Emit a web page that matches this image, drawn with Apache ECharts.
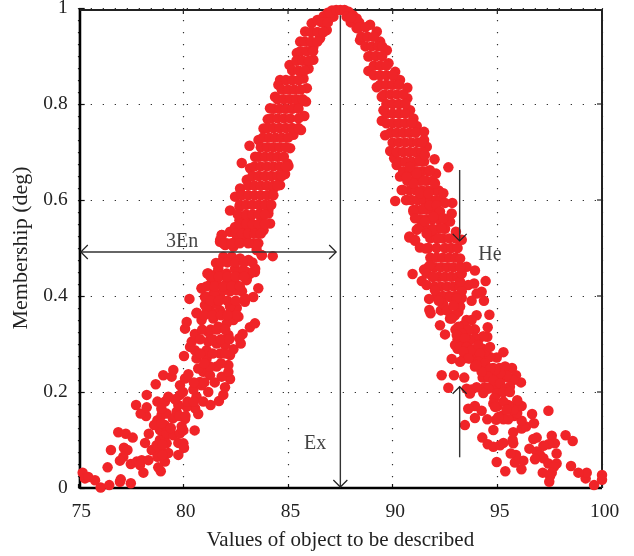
<!DOCTYPE html>
<html><head><meta charset="utf-8">
<style>html,body{margin:0;padding:0;background:#fff}#c{width:634px;height:556px}</style>
<script src="https://cdn.jsdelivr.net/npm/echarts@6/dist/echarts.min.js"></script>
</head><body><div id="c"></div>
<script>
const xTicks=[75,80,85,90,95,100];
const yTicks=[0,0.2,0.4,0.6,0.8,1];
const xTitle='Values of object to be described';
const yTitle='Membership (deg)';
const leftTail=[[75.19,.032],[75.3,.02],[75.46,.023],[75.78,.016],[76.05,.001],[76.46,.006],[77.01,.018],[76.97,.013],[77.49,.01],[76.38,.043],[76.54,.079],[76.89,.116],[77.25,.113],[77.58,.105],[77.16,.084],[77.33,.079],[77.13,.065],[76.97,.057],[77.49,.05],[77.77,.055],[78.01,.058],[78.33,.058],[78.09,.032],[77.93,.048],[78.17,.094],[78.35,.113],[78.49,.079],[78.88,.082],[79.28,.073],[78.76,.065],[79.12,.055],[78.8,.043],[78.92,.035],[79,.069],[78.88,.1],[79.2,.093],[78.72,.089],[79.76,.094],[80,.093],[80.03,.084],[79.76,.069],[79.12,.107],[78.88,.121],[79.2,.114],[79.52,.11],[79.84,.114],[80,.12],[80.54,.12],[78.76,.141],[78.6,.131],[79.12,.131],[79.92,.128],[80.08,.144],[78.96,.152],[79.2,.155],[79.68,.159],[79.5,.145],[80.71,.154],[80.56,.166],[80.16,.169],[79.76,.173],[78.22,.15],[77.96,.155],[78.25,.168],[77.74,.173],[78.76,.18],[79.12,.18],[78.25,.194],[79.28,.19],[79.84,.194],[80.63,.19],[80.95,.18],[81.3,.173],[81.7,.181],[81.91,.194],[81.99,.21],[81.19,.2],[80.87,.214],[80.48,.205],[80.79,.221],[79.84,.214],[78.68,.216],[80.08,.228],[80.24,.237],[79.04,.235],[79.44,.232],[79.52,.246],[79.98,.2],[79.6,.185],[78.95,.165],[79.4,.125],[78.95,.135],[79.0,.09]];
const leftCore=[[80.95,.242],[81.27,.235],[82.23,.227],[81.83,.232],[82.15,.242],[81.59,.253],[81.27,.253],[82.15,.256],[80.71,.249],[81.11,.27],[80.63,.27],[81.75,.28],[82.23,.277],[80.03,.275],[80.55,.287],[81.11,.287],[82.39,.289],[81.99,.298],[80.32,.294],[80.4,.305],[81.19,.305],[81.59,.301],[82.74,.301],[82.67,.312],[82.83,.321],[83.18,.335],[83.42,.343],[80.55,.321],[81.19,.325],[82.15,.319],[81.67,.336],[80.08,.332],[80.16,.346],[80.87,.35],[81.43,.353],[82.07,.343],[82.39,.35],[82.63,.357],[80.63,.364],[81.27,.371],[81.75,.37],[82.23,.365],[81.03,.381],[82.55,.375],[82.94,.388],[83.34,.398],[81.03,.398],[80.29,.394],[81.43,.405],[81.75,.4],[82.23,.41],[80.87,.416],[81.27,.423],[81.59,.426],[82.07,.426],[82.55,.423],[82.8,.41],[83.02,.433],[83.58,.416],[81.19,.447],[81.59,.447],[82.07,.447],[82.55,.447],[83.02,.45],[83.42,.45],[81.56,.469],[81.91,.482],[82.31,.482],[82.71,.478],[83.11,.475],[83.43,.457],[83.19,.447],[83.03,.437],[81.15,.447],[81.67,.457],[81.43,.437],[81.99,.444],[82.47,.457],[82.87,.454],[82.23,.43],[80.88,.416],[81.12,.398],[81.51,.405],[81.91,.412],[82.55,.412],[82.95,.395],[80.64,.365],[81.12,.374],[81.59,.384],[82.23,.378],[82.55,.36],[83.74,.485],[84.27,.483],[83.5,.496],[83.58,.51],[83.35,.51],[82.95,.517],[82.55,.517],[82.07,.51],[81.75,.513],[81.83,.527],[82.23,.534],[82.47,.544],[82.87,.544],[83.35,.544],[83.74,.558],[84.14,.551],[84.06,.572],[82.71,.562],[83.19,.565],[83.66,.572],[82.23,.578],[82.68,.586],[82.47,.607],[82.71,.624],[83.03,.642],[83.19,.666],[82.79,.677],[83.16,.713],[83.43,.69],[83.59,.725],[83.83,.749],[84.03,.768],[84.14,.791],[84.38,.815],[84.54,.84],[84.62,.85],[85.07,.881],[85.42,.906],[85.58,.93],[85.82,.951],[86.13,.968],[87.17,.982],[86.85,.954],[86.53,.937],[86.21,.919],[86.21,.892],[85.98,.874],[85.74,.853],[85.9,.833],[85.86,.805],[85.5,.801],[85.78,.775],[85.62,.746],[85.26,.736],[85.1,.708],[84.97,.676],[85.02,.671],[84.86,.654],[84.62,.631],[84.3,.624],[84.14,.59],[84.06,.579],[83.83,.537],[83.51,.506],[83.75,.485],[82.68,.558],[82.68,.538],[81.84,.527],[81.76,.517],[82,.506],[82.39,.503],[83.0,.52],[83.3,.535],[83.6,.53],[86.4,.975],[86.7,.983],[86.9,.99],[87.1,.995]];
const peak=[[87.3,.996],[87.5,.996],[87.7,.996],[87.9,.992],[88.1,.985],[87.8,.982],[88.0,.97],[88.4,.97]];
const rightCore=[[88.28,.978],[88.92,.965],[89.24,.951],[89.4,.93],[89.72,.912],[89.8,.885],[90.12,.867],[90.35,.85],[90.7,.834],[90.7,.812],[90.83,.787],[90.99,.77],[91.15,.754],[91.5,.742],[91.5,.725],[91.63,.711],[88.28,.958],[88.44,.933],[88.84,.899],[88.84,.869],[89.24,.835],[89.48,.815],[89.56,.787],[89.48,.765],[89.64,.735],[89.88,.702],[90.07,.687],[90.19,.673],[90.35,.649],[90.43,.621],[90.12,.598],[90.67,.6],[90.99,.579],[91.15,.538],[90.8,.524],[91.07,.517]];
const rightUpper=[[92.66,.668],[92,.685],[92.07,.655],[92.42,.614],[92.85,.594],[92.5,.594],[92.82,.572],[92.74,.555],[90.64,.6],[90.48,.621],[90.99,.576],[91.07,.562],[91.23,.541],[91.46,.582],[91.78,.589],[92.1,.589],[92.26,.576],[92.42,.562],[91.94,.565],[91.54,.555],[91.94,.537],[91.62,.53],[91.3,.614],[90.99,.635],[90.67,.648],[90.83,.669],[91.3,.683],[91.54,.694],[91.78,.662],[92.02,.635],[91.7,.614],[91.46,.641],[91.15,.655],[93.93,.453],[94.44,.431],[94.25,.409],[94.01,.405],[94.36,.39],[93.77,.39],[93.89,.426],[93.61,.423],[93.53,.461],[90.95,.446],[91.39,.431],[91.62,.423],[91.74,.394],[91.75,.371],[91.81,.364],[92.42,.383],[92.74,.353],[92.98,.36],[93.14,.367],[93.22,.378],[93.3,.396],[93.3,.41],[93.22,.43],[93.3,.447],[93.22,.46],[93.22,.478],[90.8,.522],[91.07,.515],[91.3,.501],[91.59,.499],[91.5,.455],[91.78,.464],[91.62,.447],[91.94,.44],[92.02,.412],[92.34,.398],[92.74,.398],[93.06,.395],[93.02,.534],[93.3,.517],[92.18,.52],[92.34,.541],[92.2,.39],[92.6,.37],[92.9,.38]];
const rightMid=[[95.29,.283],[94.97,.272],[94.65,.273],[94.41,.284],[94.65,.294],[94.52,.315],[94.33,.316],[94.54,.335],[94.62,.361],[94.01,.36],[93.77,.35],[93.53,.35],[93.38,.339],[93.14,.336],[93.93,.33],[93.61,.329],[93.3,.322],[93.06,.319],[92.5,.32],[92.26,.339],[92.82,.353],[93.93,.312],[93.69,.308],[93.45,.312],[92.98,.298],[93.22,.294],[93.53,.294],[93.77,.287],[94.09,.298],[94.17,.28],[93.38,.284],[93.61,.27],[93.22,.263],[92.82,.269],[93.93,.253],[94.09,.263],[94.41,.26],[96.13,.22],[95.89,.235],[95.76,.225],[95.6,.211],[95.37,.253],[95.45,.235],[95.13,.239],[94.89,.246],[94.65,.249],[94.57,.232],[94.81,.225],[95.13,.218],[95.37,.207],[94.57,.207],[94.33,.198],[94.97,.197],[95.29,.2],[95.6,.2],[94.25,.242],[94.01,.256],[92.34,.235],[92.93,.235],[93.42,.23],[92.66,.209],[93.53,.207],[93.77,.205],[94.01,.21],[93.69,.197]];
const rightTail=[[100,.027],[100,.017],[99.62,.006],[99.22,.02],[99.27,.032],[98.87,.032],[98.52,.046],[98.6,.098],[98.26,.11],[97.6,.109],[97.75,.093],[97.44,.091],[97.2,.088],[96.88,.105],[96.72,.102],[96.53,.082],[97.83,.072],[96.88,.076],[97.04,.069],[97.2,.062],[96.8,.06],[97.44,.051],[97.83,.051],[97.7,.044],[97.6,.032],[97.17,.032],[97.52,.025],[97.48,.013],[96.15,.039],[96.24,.057],[95.84,.053],[95.89,.069],[95.64,.072],[95.38,.035],[94.97,.054],[95.76,.093],[95.73,.1],[95.76,.116],[96.16,.124],[96.37,.128],[96.75,.135],[96.66,.154],[97.44,.161],[96.16,.14],[95.95,.156],[96.16,.171],[95.95,.183],[95.76,.163],[95.52,.143],[95.29,.143],[94.94,.142],[95.05,.148],[94.52,.143],[93.93,.146],[94.25,.161],[93.93,.171],[93.61,.165],[93.45,.131],[94.28,.105],[94.54,.091],[94.81,.086],[95.13,.089],[95.29,.094],[94.81,.121],[95.52,.173],[95.29,.18],[95.44,.163],[94.86,.187],[94.81,.176],[94.89,.169]];
const leftDenseRows=[[.99,[87.0]],[.97,[86.6,86.9]],[.95,[86.1,86.4,86.7]],[.93,[85.8,86.1,86.4]],[.91,[85.6,85.9,86.2]],[.89,[85.4,85.7,86.0]],[.87,[85.2,85.5,85.8]],[.85,[84.9,85.2,85.5]],[.83,[84.7,85.0,85.3,85.6]],[.81,[84.5,84.8,85.1,85.4,85.7]],[.79,[84.3,84.6,84.9,85.2,85.5]],[.77,[84.2,84.5,84.8,85.1,85.5]],[.75,[84.0,84.3,84.6,84.9,85.2,85.5]],[.73,[83.8,84.1,84.4,84.7,85.0]],[.71,[83.7,84.0,84.3,84.6,84.9]],[.69,[83.6,83.9,84.2,84.5,84.8]],[.67,[83.4,83.7,84.0,84.3,84.6,84.9]],[.65,[83.3,83.6,83.9,84.2,84.5,84.7]],[.63,[83.1,83.4,83.7,84.0,84.3,84.5]],[.61,[82.8,83.1,83.4,83.7,84.0,84.3]],[.59,[82.7,83.0,83.3,83.6,83.9,84.2]],[.57,[82.6,83.0,83.3,83.6,83.9]],[.55,[82.7,83.0,83.3,83.6,83.9]],[.53,[82.5,82.8,83.1,83.4,83.7]],[.51,[81.9,82.3,82.7,83.1]],[.47,[81.8,82.1,82.5,82.9,83.3]],[.44,[81.3,81.7,82.1,82.5,82.9]],[.42,[81.1,81.5,81.9,82.3,82.7]],[.39,[81.3,81.7,82.1,82.5]],[.36,[81.0,81.4,81.8,82.1]],[.33,[80.9,81.3,81.6,82.0]],[.31,[80.8,81.4,81.8,82.2]],[.28,[80.8,81.4,82.0]],[.26,[81.0,81.8]],[.22,[80.5,81.0,81.5]],[.18,[80.2,80.5]],[.15,[79.8,80.1]]];
const rightDenseRows=[[.98,[88.0]],[.96,[88.4,88.7]],[.94,[88.5,88.8,89.1]],[.92,[88.7,89.0,89.3,89.5]],[.90,[88.9,89.2,89.5]],[.88,[89.1,89.4,89.7]],[.86,[89.1,89.4,89.7,90.0]],[.84,[89.4,89.7,90.0,90.3]],[.82,[89.6,89.9,90.2,90.5]],[.80,[89.7,90.0,90.3,90.6]],[.78,[89.7,90.0,90.3,90.6]],[.76,[89.7,90.0,90.3,90.6,90.9]],[.74,[89.9,90.2,90.5,90.8,91.1]],[.72,[90.0,90.3,90.6,90.9,91.2,91.4]],[.70,[90.2,90.5,90.8,91.1,91.4]],[.68,[90.3,90.6,90.9,91.2,91.5]],[.66,[90.5,90.8,91.1,91.4,91.7]],[.64,[90.7,91.0,91.3,91.6,91.9]],[.62,[90.8,91.1,91.4,91.7,92.0,92.2]],[.60,[90.9,91.2,91.5,91.8,92.1,92.3]],[.58,[91.1,91.4,91.7,92.0]],[.56,[91.3,91.6,91.9,92.2,92.5]],[.54,[91.6,91.9,92.2,92.5]],[.52,[91.8,92.1,92.4,92.7,93.0]],[.50,[91.7,92.1,92.5,92.8,93.1]],[.48,[91.8,92.1,92.4,92.7,93.0]],[.46,[91.7,92.0,92.3,92.6,92.9]],[.44,[91.9,92.2,92.5,92.8,93.1]],[.42,[92.0,92.3,92.6,92.9,93.2]],[.40,[92.1,92.4,92.7,93.0]],[.37,[92.3,92.6]],[.33,[93.0,93.3,93.6,93.9]],[.31,[93.1,93.4,93.7,94.1]],[.29,[93.1,93.4,93.7,94.0,94.3]],[.27,[93.4,93.7,94.0,94.3]],[.25,[94.2,94.5,94.8,95.1,95.4,95.7]],[.23,[94.3,94.6,94.9,95.2,95.5]],[.21,[94.4,94.7,95.0]],[.17,[95.0,95.7]],[.15,[95.2,95.8]]];
const arrows=[[75.1,.4917,87.3,.4917,1],[87.5,.985,87.5,.002,0],[93.2,.6625,93.2,.515,0],[93.2,.064,93.2,.211,0]];
const annotations=[[79.94,.5125,'3En'],[94.65,.485,'He'],[86.3,.092,'Ex']];
const serif='"Liberation Serif"';
const rowsToPoints=rows=>rows.flatMap(r=>r[1].map(x=>[x,r[0]]));
const points=[].concat(leftTail,leftCore,rowsToPoints(leftDenseRows),peak,rightCore,rowsToPoints(rightDenseRows),rightUpper,rightMid,rightTail);
const frameTop=.996, frameLeft=75.06;
const chart=echarts.init(document.getElementById('c'));
chart.setOption({
 animation:false,backgroundColor:'#fff',
 grid:{left:78.7,top:8,width:523.3,height:480,outerBoundsMode:'none'},
 xAxis:{type:'value',min:75,max:100,interval:5,
  name:xTitle,nameLocation:'middle',nameGap:42,nameTextStyle:{fontFamily:serif,fontSize:21,color:'#222'},
  axisLine:{show:false},axisTick:{inside:true,length:4,lineStyle:{color:'#111',width:1.2}},
  axisLabel:{fontFamily:serif,fontSize:19.5,color:'#222',margin:14,padding:[0,0,0,5]},
  splitLine:{show:true,lineStyle:{color:'#333',width:1.2,type:[1.3,10.7]}}},
 yAxis:{type:'value',min:0,max:1,interval:.2,
  name:yTitle,nameLocation:'middle',nameRotate:90,nameGap:43,nameTextStyle:{fontFamily:serif,fontSize:22,color:'#222'},
  axisLine:{show:false},axisTick:{inside:true,length:6,lineStyle:{color:'#111',width:1.2}},
  axisLabel:{fontFamily:serif,fontSize:19.5,color:'#222',margin:11,padding:[2,0,0,0]},
  splitLine:{show:true,lineStyle:{color:'#333',width:1.2,type:[1.3,10.7]}}},
 series:[
  {type:'custom',coordinateSystem:'cartesian2d',clip:false,silent:true,z:1,data:[[0,0]],
   renderItem:(p,api)=>{
    const c=(x,y)=>api.coord([x,y]);
    const a=c(frameLeft,0),b=c(frameLeft,frameTop),d=c(100,frameTop),e=c(100,0);
    const seg=(p1,p2,w,col)=>({type:'line',shape:{x1:p1[0],y1:p1[1],x2:p2[0],y2:p2[1]},style:{stroke:col,lineWidth:w}});
    const kids=[seg(a,e,2.6,'#000'),seg(a,[b[0],b[1]-1],2.6,'#000'),seg(b,d,2,'#222'),seg(e,[d[0],d[1]-1],2,'#222')];
    xTicks.slice(1,-1).forEach(t=>{const q=c(t,frameTop);kids.push(seg(q,[q[0],q[1]+4],1.2,'#222'));});
    yTicks.slice(1,-1).forEach(t=>{const q=c(100,t);kids.push(seg(q,[q[0]-5,q[1]],1.2,'#222'));});
    return {type:'group',children:kids};
   }},
  {type:'scatter',data:points,symbolSize:10.5,clip:false,z:2,itemStyle:{color:'#f02428',opacity:1}},
  {type:'custom',coordinateSystem:'cartesian2d',clip:false,silent:true,z:3,data:arrows,
   renderItem:(p,api)=>{
    const a=api.coord([api.value(0),api.value(1)]),b=api.coord([api.value(2),api.value(3)]);
    const both=api.value(4)===1;
    const len=Math.hypot(b[0]-a[0],b[1]-a[1]),ux=(b[0]-a[0])/len,uy=(b[1]-a[1])/len,s=7;
    const head=(t,dx,dy)=>({type:'polyline',shape:{points:[[t[0]-dx*s+dy*s,t[1]-dy*s-dx*s],t,[t[0]-dx*s-dy*s,t[1]-dy*s+dx*s]]},style:{stroke:'#222',fill:null,lineWidth:1.2}});
    const kids=[{type:'line',shape:{x1:a[0],y1:a[1],x2:b[0],y2:b[1]},style:{stroke:'#333',lineWidth:1.4}},head(b,ux,uy)];
    if(both)kids.push(head(a,-ux,-uy));
    return {type:'group',children:kids};
   }},
  {type:'scatter',data:annotations,symbolSize:0,clip:false,z:4,silent:true,
   label:{show:true,position:'inside',formatter:o=>o.data[2],fontFamily:serif,fontSize:20,color:'#111'}}
 ]
});
</script></body></html>
